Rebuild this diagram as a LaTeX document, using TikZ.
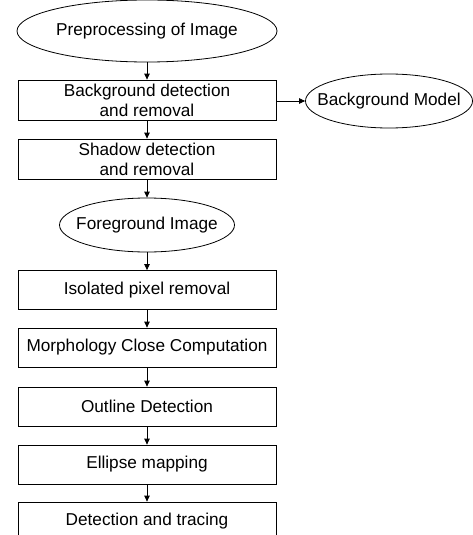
\documentclass[tikz,border=0pt]{standalone}
\usepackage{fontspec}
\setmainfont{Liberation Sans}
\usetikzlibrary{shapes.geometric,arrows.meta}
\begin{document}
\begin{tikzpicture}[x=1pt,y=-1pt,
  every node/.style={font=\fontsize{17.2}{20}\selectfont, inner sep=0pt, align=center},
  procbox/.style={draw, line width=0.8pt, minimum width=258pt, minimum height=39pt},
  oval/.style={draw, ellipse, line width=0.8pt, inner xsep=-40pt, inner ysep=-10pt},
  arr/.style={-{Triangle[length=6pt,width=5.5pt]}, line width=0.8pt}]
\useasboundingbox (0,0) rectangle (473,535);
\clip (0,0) rectangle (473,535);
\node[oval, minimum width=260pt, minimum height=62pt] (pre) at (147,31) {Preprocessing of Image};
\node[procbox, minimum height=40pt] (bg) at (147,100) {Background detection\\and removal};
\node[oval, minimum width=167pt, minimum height=54pt] (bgm) at (389,101) {Background Model};
\node[procbox, minimum height=40pt] (sh) at (147,159) {Shadow detection\\and removal};
\node[oval, minimum width=175pt, minimum height=54pt] (fg) at (147,225) {Foreground Image};
\node[procbox] (iso) at (147,290) {Isolated pixel removal};
\node[procbox] (mor) at (147,347.5) {Morphology Close Computation};
\node[procbox] (out) at (147,406.5) {Outline Detection};
\node[procbox] (ell) at (147,464.5) {Ellipse mapping};
\node[procbox] (det) at (147,521.5) {Detection and tracing};
\draw[arr] (pre) -- (bg);
\draw[arr] (bg) -- (sh);
\draw[arr] (sh) -- (fg);
\draw[arr] (fg) -- (iso);
\draw[arr] (iso) -- (mor);
\draw[arr] (mor) -- (out);
\draw[arr] (out) -- (ell);
\draw[arr] (ell) -- (det);
\draw[arr] (bg.east |- bgm.west) -- (bgm.west);
\end{tikzpicture}
\end{document}
